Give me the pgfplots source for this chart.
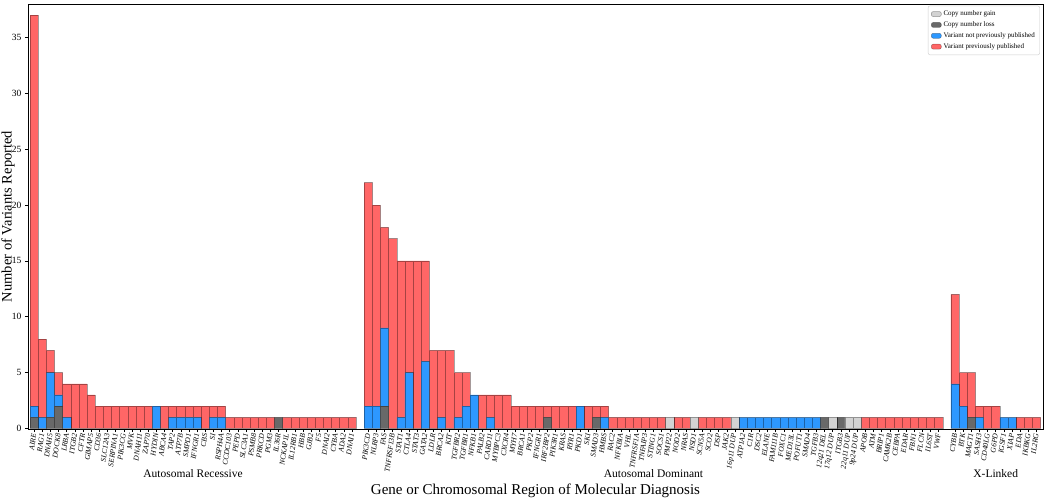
\documentclass[border=0pt]{standalone}
\usepackage{pgfplots}
\pgfplotsset{compat=1.18}
\usepackage{pgfplotstable}
\usepackage{fontspec}
\setmainfont{Liberation Serif}
\definecolor{cgain}{RGB}{211,211,211}
\definecolor{closs}{RGB}{105,105,105}
\definecolor{cnov}{RGB}{45,152,255}
\definecolor{cpub}{RGB}{255,102,102}
\pgfplotstableread[col sep=comma]{
x,gain,loss,nov,pub,label
0,0,1,1,35,AIRE
1,0,0,1,7,RAG1
2,0,1,4,2,DNAH5
3,0,2,1,2,DOCK8
4,0,0,1,3,LRBA
5,0,0,0,4,ITGB2
6,0,0,0,4,CFTR
7,0,0,0,3,GIMAP5
8,0,0,0,2,CD36
9,0,0,0,2,SLC12A3
10,0,0,0,2,SERPINA1
11,0,0,0,2,PIK3CG
12,0,0,0,2,MVK
13,0,0,0,2,DNAH11
14,0,0,0,2,ZAP70
15,0,0,2,0,HYDIN
16,0,0,0,2,ABCA4
17,0,0,1,1,TAP2
18,0,0,1,1,ATP7B
19,0,0,1,1,SMPD1
20,0,0,1,1,IFNGR1
21,0,0,0,2,CBS
22,0,0,1,1,SI
23,0,0,1,1,RSPH4A
24,0,0,0,1,CCDC103
25,0,0,0,1,PEPD
26,0,0,0,1,SLC3A1
27,0,0,0,1,PSMB8
28,0,0,0,1,PRKCD
29,0,0,0,1,PGM3
30,0,1,0,0,IL36R
31,0,0,0,1,NCKAP1L
32,0,0,0,1,IL12RB1
33,0,0,0,1,HBB
34,0,0,0,1,GJB2
35,0,0,0,1,F5
36,0,0,0,1,DNAI2
37,0,0,0,1,CYBA
38,0,0,0,1,ADA2
39,0,0,0,1,DNAI1
41,0,0,2,20,PIK3CD
42,0,0,2,18,NLRP3
43,0,2,7,9,FAS
44,0,0,0,17,TNFRSF13B
45,0,0,1,14,STAT1
46,0,0,5,10,CTLA4
47,0,0,0,15,STAT3
48,0,0,6,9,GATA2
49,0,0,0,7,LDLR
50,0,0,1,6,BRCA2
51,0,0,0,7,KIT
52,0,0,1,4,TGFBR2
53,0,0,2,3,TGFBR1
54,0,0,3,0,NFKB1
55,0,0,0,3,PALB2
56,0,0,1,2,CARD11
57,0,0,0,3,MYBPC3
58,0,0,0,3,CXCR4
59,0,0,0,2,MYH7
60,0,0,0,2,BRCA1
61,0,0,0,2,PKP2
62,0,0,0,2,IFNGR1
63,0,1,0,1,IRF2BP2
64,0,0,0,2,PIK3R1
65,0,0,0,2,KRAS
66,0,0,0,2,RYR1
67,0,0,2,0,PKD1
68,0,0,0,2,SKI
69,0,1,0,1,SMAD3
70,0,0,1,1,HMBS
71,0,0,0,1,RAC2
72,0,0,0,1,NFKBIA
73,0,0,0,1,VHL
74,0,0,0,1,TNFRSF1A
75,0,0,0,1,TNFAIP3
76,0,0,0,1,STING1
77,0,0,0,1,SOCS1
78,1,0,0,0,PMP22
79,0,0,0,1,NOD2
80,0,0,0,1,NRAS
81,1,0,0,0,NSD1
82,0,0,0,1,SCN5A
83,0,0,0,1,SCO2
84,0,0,0,1,DSP
85,0,0,0,1,JAK2
86,1,0,0,0,16p11 DUP
87,0,0,1,0,ATP1A2
88,0,0,1,0,C1R
89,0,0,1,0,DSC2
90,0,0,1,0,ELANE
91,0,0,1,0,FAM111B
92,0,0,1,0,FOXC1
93,0,0,1,0,MED13L
94,0,0,1,0,POFUT1
95,0,0,1,0,SMAD4
96,0,0,1,0,TGFB3
97,0,1,0,0,12q21 DEL
98,1,0,0,0,17q12 DUP
99,0,1,0,0,ITGB3
100,1,0,0,0,22q11 DUP
101,1,0,0,0,9p24 DUP
102,0,0,0,1,APOB
103,0,0,0,1,ATM
104,0,0,0,1,BRIP1
105,0,0,0,1,CAMK2B
106,0,0,0,1,CEBPA
107,0,0,0,1,EDAR
108,0,0,0,1,FBN1
109,0,0,0,1,FLCN
110,0,0,0,1,IL6ST
111,0,0,0,1,VWF
113,0,0,4,8,CYBB
114,0,0,2,3,BTK
115,0,1,0,4,MAGT1
116,0,0,1,1,SASH3
117,0,0,0,2,CD40LG
118,0,0,0,2,G6PD
119,0,0,1,0,IGSF1
120,0,0,1,0,XIAP
121,0,0,0,1,EDA
122,0,0,0,1,IKBKG
123,0,0,0,1,IL2RG
}\data
\begin{document}
\begin{tikzpicture}
\path[use as bounding box] (-28pt,-72pt) rectangle (1017pt,429pt);
\begin{axis}[
  at={(0,0)}, anchor=south west,
  width=1015pt, height=425pt, scale only axis,
  ybar stacked, bar width=1,
  xmin=-0.75, xmax=123.8,
  ymin=-0.05, ymax=38,
  clip=false,
  xtick=data,
  xticklabels from table={\data}{label},
  xticklabel style={font=\fontsize{7.5}{8}\selectfont\itshape, rotate=82, anchor=east, inner sep=1.5pt},
  ytick={0,5,...,35},
  yticklabel style={font=\fontsize{9.5}{10}\selectfont},
  /pgf/number format/assume math mode=true,
  tick align=outside,
  major tick length=3pt,
  tick style={black, line width=0.5pt},
  xtick pos=bottom, ytick pos=left,
  axis line style={black, line width=0.7pt},
  legend style={at={(rel axis cs:0.997,0.996)}, anchor=north east,
    font=\fontsize{7}{8}\selectfont, draw=black!20, rounded corners=2pt,
    row sep=0.5pt, inner sep=3pt, cells={anchor=west}},
  legend image code/.code={\fill[#1] (0pt,-2.5pt) rectangle (10pt,2.5pt);},
  every axis plot/.append style={draw=black, draw opacity=0.35, line width=0.5pt},
]
\addplot[fill=cgain] table[x=x,y=gain]{\data};
\addlegendentry{Copy number gain}
\addplot[fill=closs] table[x=x,y=loss]{\data};
\addlegendentry{Copy number loss}
\addplot[fill=cnov] table[x=x,y=nov]{\data};
\addlegendentry{Variant not previously published}
\addplot[fill=cpub] table[x=x,y=pub]{\data};
\addlegendentry{Variant previously published}
\node[font=\fontsize{11.5}{12}\selectfont, yshift=-45pt] at (axis cs:19.5,0) {Autosomal Recessive};
\node[font=\fontsize{11.5}{12}\selectfont, yshift=-45pt] at (axis cs:76,0) {Autosomal Dominant};
\node[font=\fontsize{11.5}{12}\selectfont, yshift=-45pt] at (axis cs:118,0) {X-Linked};
\node[font=\fontsize{15}{16}\selectfont, yshift=-62pt] at (rel axis cs:0.5,0) {Gene or Chromosomal Region of Molecular Diagnosis};
\node[font=\fontsize{14.5}{15}\selectfont, xshift=-20pt, rotate=90] at (rel axis cs:0,0.5) {Number of Variants Reported};
\end{axis}
\end{tikzpicture}
\end{document}
